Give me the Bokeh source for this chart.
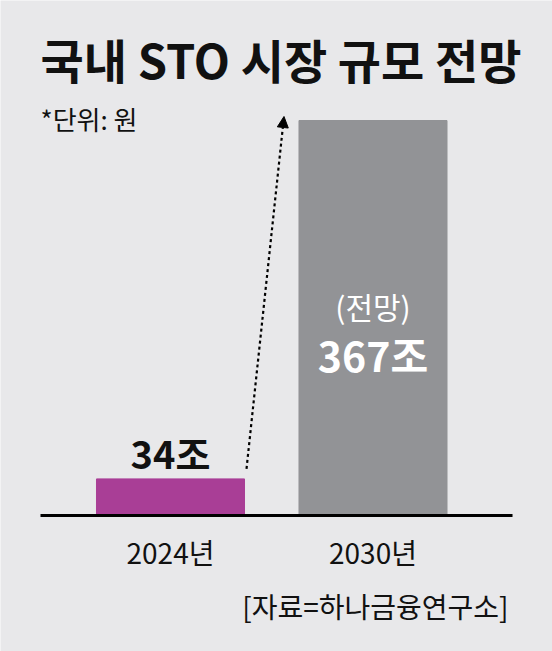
from bokeh.plotting import figure
from bokeh.models import Range1d, ColumnDataSource, Label, Arrow, NormalHead
from bokeh.core.properties import value
from bokeh.embed import file_html
from bokeh.resources import INLINE

# ---- data ----
years = ["2024년", "2030년"]
amounts = [34, 367]
value_labels = ["34조", "367조"]
bar_colors = ["#a93e96", "#929396"]
title_text = "국내 STO 시장 규모 전망"
unit_text = "*단위: 원"
forecast_text = "(전망)"
source_text = "[자료=하나금융연구소]"

FONT = "Noto Sans CJK KR"
BG = "#e8e8ea"
W, H = 552, 651

xs = list(range(len(years)))
bar_w = 0.731
k = 395 / 367.0      # px per unit (y)
px_x = 202.5         # px per unit (x)

p = figure(width=W, height=H, output_backend="svg", toolbar_location=None,
           x_range=Range1d(-170 / px_x, (W - 170) / px_x),
           y_range=Range1d(-(H - 515) / k, 515 / k),
           min_border=0, min_border_left=0, min_border_right=0,
           min_border_top=0, min_border_bottom=0)
p.axis.visible = False
p.grid.visible = False
p.outline_line_color = None
p.background_fill_color = BG
p.border_fill_color = BG

src = ColumnDataSource(dict(x=xs, top=amounts, color=bar_colors, year=years, lab=value_labels))
p.vbar(x="x", top="top", bottom=0, width=bar_w, color="color", source=src)

# baseline
p.segment(x0=[-0.642], y0=[0], x1=[1.689], y1=[0], line_color="black", line_width=3)

# year labels
p.text(x="x", y=0, text="year", source=src, text_font=value(FONT), text_font_size="28px",
       text_align="center", text_baseline="middle", y_offset=36, text_color="#111111")

# value label for first bar (above)
p.text(x=[xs[0]], y=[amounts[0]], text=[value_labels[0]], text_font=value(FONT),
       text_font_size="38px", text_font_style="bold", text_align="center",
       text_baseline="middle", y_offset=-26, text_color="#111111")

# labels inside second bar
p.text(x=[xs[1]], y=[amounts[1]], text=[forecast_text], text_font=value(FONT),
       text_font_size="30px", text_align="center", text_baseline="middle",
       y_offset=185, text_color="white")
p.text(x=[xs[1]], y=[amounts[1]], text=[value_labels[1]], text_font=value(FONT),
       text_font_size="41px", text_font_style="bold", text_align="center",
       text_baseline="middle", y_offset=233, text_color="white")

# arrow from first bar top to second bar top
arrow = Arrow(x_start=xs[0] + bar_w / 2 + 2 / px_x, y_start=amounts[0] + 10 / k,
              x_end=xs[1] - bar_w / 2 - 15 / px_x, y_end=amounts[1] + 4 / k,
              line_color="black", line_width=2.2, line_dash="3 3",
              end=NormalHead(size=11, fill_color="black", line_color="black"))
p.add_layout(arrow)

# title, unit, source
p.add_layout(Label(x=40, y=H - 58, x_units="screen", y_units="screen", text=title_text,
                   text_font=FONT, text_font_size="47px", text_font_style="bold",
                   text_baseline="middle", text_align="left", text_color="#111111"))
p.add_layout(Label(x=40, y=H - 118, x_units="screen", y_units="screen", text=unit_text,
                   text_font=FONT, text_font_size="26px",
                   text_baseline="middle", text_align="left", text_color="#111111"))
p.add_layout(Label(x=508, y=H - 605, x_units="screen", y_units="screen", text=source_text,
                   text_font=FONT, text_font_size="28px",
                   text_baseline="middle", text_align="right", text_color="#111111"))

html = file_html(p, INLINE)
html = html.replace("<body>", '<body style="margin:0;background:%s;">' % BG, 1)
open("out.html", "w").write(html)
